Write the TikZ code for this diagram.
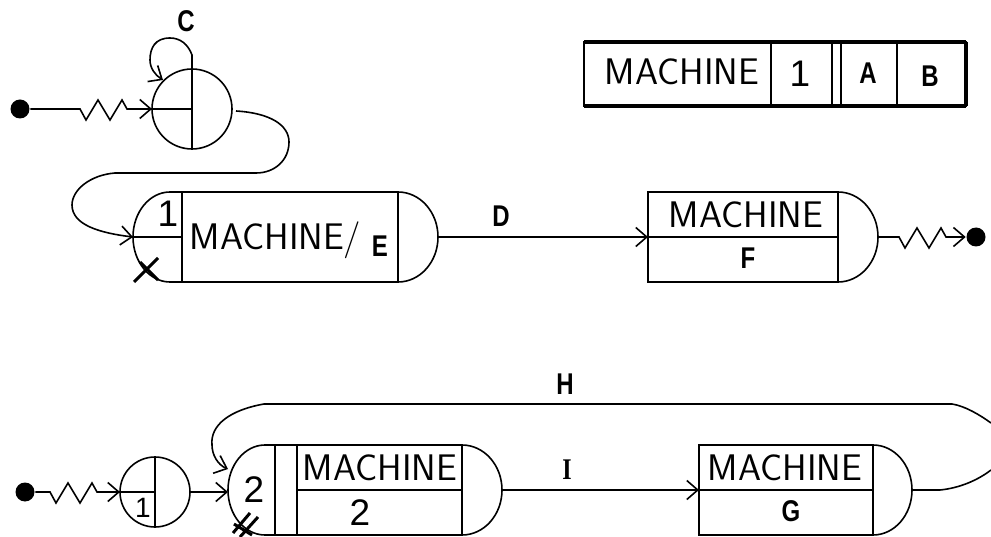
\documentclass[tikz,border=0pt]{standalone}
\usepackage{fontspec}
\usepackage{xcolor}
\usepackage{tikz}
\usetikzlibrary{arrows.meta, positioning, calc}
\newfontfamily\tagfont[FakeStretch=.8]{Liberation Sans}
\newfontfamily\slabfont[FakeStretch=.8]{Liberation Serif}
\newfontfamily\digitfont{Liberation Sans}
\newcommand{\zigpath}{-- ++(6,11) -- ++(12,-20) -- ++(12,20) -- ++(12,-20) -- ++(5,9)}

\begin{document}
\begin{tikzpicture}[
    x=1pt, y=-1pt,
    line width=1.6pt,
    mbox/.style={rectangle, draw=black, outer sep=0pt, inner sep=0pt, minimum width=#1, minimum height=90pt},
    cell/.style={rectangle, draw=black, outer sep=0pt, inner sep=0pt, minimum width=#1, minimum height=64pt},
    gate/.style={circle, draw=black, outer sep=0pt, inner sep=0pt, minimum size=#1},
    dot/.style={circle, fill=black, inner sep=0pt, minimum size=19pt},
    mtext/.style={inner sep=0pt, font=\fontsize{37}{37}\selectfont\sffamily},
    digit/.style={inner sep=0pt, font=\fontsize{#1}{#1}\selectfont\digitfont},
    tag/.style={inner sep=0pt, font=\fontsize{30}{30}\selectfont\tagfont\bfseries},
    slabtag/.style={inner sep=0pt, font=\fontsize{30}{30}\selectfont\slabfont\bfseries},
    arrow/.style={-{Straight Barb[length=11pt,width=19pt,line width=1.6pt]}}
]
    \useasboundingbox (0,0) rectangle (991,537);

    % legend
    \node[cell=187pt, anchor=north west] (legName) at (584,42) {};
    \node[cell=61pt, right=0pt of legName] (legNum) {};
    \node[cell=56pt, right=9pt of legNum] (legA) {};
    \node[cell=69pt, right=0pt of legA] (legB) {};
    \draw[line width=4pt] (legName.north west) -- (legB.north east);
    \draw[line width=4pt] (legName.south west) -- (legB.south east);
    \draw[line width=3.5pt] (legB.north east) -- (legB.south east);
    \node[mtext] at (682,72) {MACHINE};
    \node[digit=37] at (800,74) {1};
    \node[tag] at (868,73) {A};
    \node[tag] at (930,76) {B};

    % upper line
    \node[dot] (dotA) at (20,109) {};
    \node[gate=80pt] (gateA) at (192,109) {};
    \node[mbox=216pt] (mE) at (290,237) {};
    \node[mbox=190pt, right=250pt of mE] (mF) {};
    \node[dot] (dotB) at (976,237) {};
    \coordinate (zigA) at (80,109);
    \coordinate (zigB) at (899,237);
    \coordinate (inE) at (133,237);
    \coordinate (capE) at (438,237);
    \coordinate (capF) at (878,237);
    \coordinate (topA) at (192,55);
    \coordinate (loopA) at (163,80);

    \draw (mE.north west) -- ++(-12,0) arc[start angle=90, end angle=270, x radius=37pt, y radius=45pt] -- (mE.south west);
    \draw (mE.north east) arc[start angle=90, end angle=-90, x radius=40pt, y radius=45pt];
    \draw (mF.north east) arc[start angle=90, end angle=-90, x radius=40pt, y radius=45pt];
    \draw (mF.west) -- (mF.east);
    \draw (inE) -- (mE.west);
    \draw (gateA.west) -- (gateA.center);
    \draw[arrow] (gateA.south) -- (topA) .. controls (188,44) and (180,38) .. (170,38) .. controls (155,38) and (150,48) .. (150,60) .. controls (150,68) and (155,75) .. (loopA);

    \draw[arrow] (dotA) -- (zigA) \zigpath -- (gateA.west);
    \draw[arrow] (gateA.east) ++(4,2) .. controls (270,113) and (289,125) .. (289,142) .. controls (289,160) and (275,173) .. (256,173) -- (115,173) .. controls (90,175) and (72,190) .. (72,205) .. controls (72,225) and (100,233) .. (inE);
    \draw[arrow] (capE) -- node[tag, pos=.3, above=10pt] {D} (mF.west);
    \draw[arrow] (capF) -- (zigB) \zigpath -- (dotB);

    \draw[line width=3pt] (134,282) -- (158,258) (140,262) -- (158,280);

    \node[tag] at (186,21) {C};
    \node[digit=37] at (168,214) {1};
    \node[mtext, anchor=west] at (189,240) {MACHINE/};
    \node[tag] at (380,246) {E};
    \node[mtext] at (746,215) {MACHINE};
    \node[tag] at (748,258) {F};

    % lower line
    \node[dot] (dotC) at (25,492) {};
    \node[gate=70pt] (gateC) at (155,492) {};
    \node[mbox=187pt] (m2) at (368.5,490) {};
    \node[mbox=174pt, right=237pt of m2] (mG) {};
    \coordinate (zigC) at (50,492);
    \coordinate (in2) at (228,492);
    \coordinate (back2) at (228,469);
    \coordinate (cap2) at (502,490);
    \coordinate (capG) at (912,490);
    \coordinate (offA) at (991,470);
    \coordinate (offB) at (991,423);
    \coordinate (bar2) at (297,445);
    \coordinate (bar2b) at (297,535);

    \draw (m2.north west) -- ++(-10,0) arc[start angle=90, end angle=270, x radius=37pt, y radius=45pt] -- (m2.south west);
    \draw (m2.north east) arc[start angle=90, end angle=-90, x radius=40pt, y radius=45pt];
    \draw (mG.north east) arc[start angle=90, end angle=-90, x radius=39pt, y radius=45pt];
    \draw (bar2) -- (bar2b);
    \draw (bar2 |- m2.west) -- (m2.east);
    \draw (mG.west) -- (mG.east);
    \draw (gateC.west) -- (gateC.center);
    \draw (gateC.north) -- (gateC.south);

    \draw[arrow] (dotC) -- (zigC) \zigpath -- (gateC.west);
    \draw[arrow] (gateC.east) -- (in2);
    \draw[arrow] (cap2) -- node[slabtag, pos=.33, above=10pt] {I} (mG.west);
    \draw (capG) -- (940,490) .. controls (960,488) and (978,480) .. (offA);
    \draw[arrow] (offB) .. controls (980,415) and (965,406) .. (952,404) -- node[tag, pos=.5625, above=9pt] {H} (264,404) .. controls (230,410) and (210,425) .. (212,445) .. controls (212,455) and (218,465) .. (back2);

    \draw[line width=3pt] (233,533) -- (250,513) (240,537) -- (258,517) (234,524) -- (252,535);

    \node[digit=28] at (143,508) {1};
    \node[digit=37] at (254,490) {2};
    \node[mtext] at (380,468) {MACHINE};
    \node[digit=37] at (360,513) {2};
    \node[mtext] at (785,468) {MACHINE};
    \node[tag] at (791,511) {G};
\end{tikzpicture}
\end{document}
